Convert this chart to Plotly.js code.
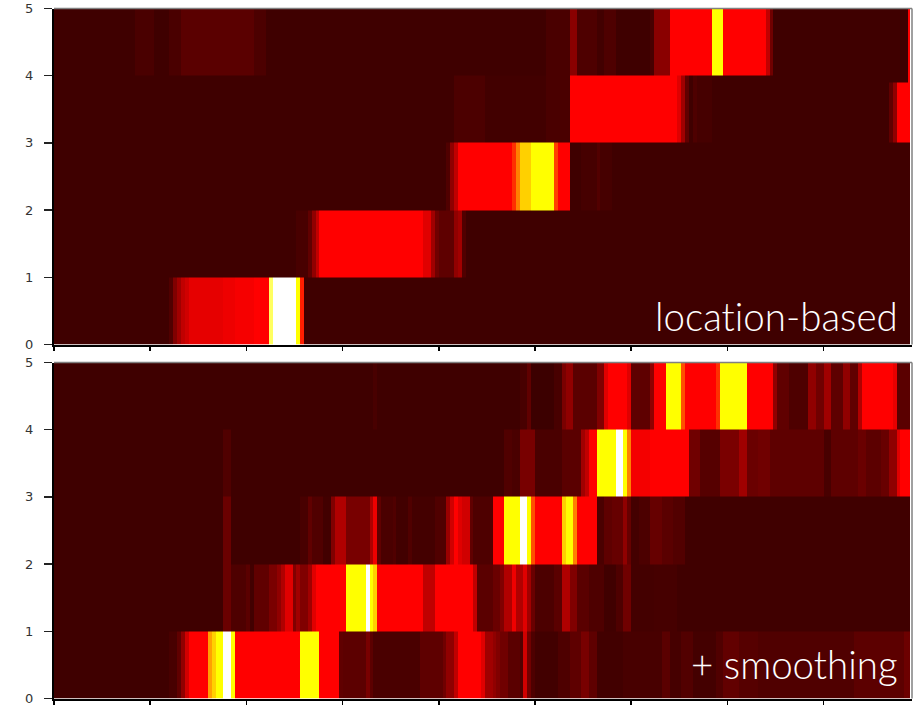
<!DOCTYPE html>
<html>
<head>
<meta charset="utf-8">
<script src="https://cdn.plot.ly/plotly-3.0.1.min.js"></script>
<style>html,body{margin:0;padding:0;background:#fff;overflow:hidden}
.annotation-text{font-variant-ligatures:none;font-feature-settings:"liga" 0}</style>
</head>
<body>
<div id="chart" style="width:922px;height:725px"></div>
<script>
// Runs are [first column, heat], heat = R+G+B of the "hot" colour
const B = 0x3f, RED = 255, YEL = 510, WHT = 765;
const COLS = 223;
const yTicks = [0, 1, 2, 3, 4, 5];
const labels = ["location-based", "+ smoothing"];

const topRow0 = [[0,B],[30,0x50],[31,0x80],[32,0xa0],[33,0xc0],[34,0xd0],[35,0xe6],[44,0xee],[47,0xf6],[52,RED],[56,606],[57,WHT],[63,YEL],[64,285],[65,B]];
const topRow1 = [[0,B],[63,0x48],[66,0x60],[67,0x90],[68,0xc0],[69,RED],[96,0xe0],[98,0xa0],[99,0x70],[100,0x5e],[104,0x90],[105,0xa0],[106,0x50],[107,B]];
const topRow2 = [[0,B],[102,0x50],[103,0x90],[104,0xc0],[105,RED],[119,303],[120,383],[121,463],[124,YEL],[130,319],[131,RED],[134,B],[137,0x46],[141,0x52],[142,0x46],[145,B]];
const topRow3 = [[0,B],[104,0x4c],[112,0x42],[128,0x4a],[134,RED],[162,0xe0],[163,0xa0],[164,0x60],[165,B],[166,0x4e],[167,0x46],[171,B],[217,0x60],[218,0x90],[219,RED]];
const topRow39 = [[0,B],[104,0x4c],[112,0x42],[128,0x4a],[134,RED],[162,0xe0],[163,0xa0],[164,0x60],[165,B],[166,0x4e],[167,0x46],[171,B],[222,RED]];
const topRow4 = [[0,B],[21,0x4a],[26,B],[30,0x4a],[33,0x5a],[52,0x4c],[55,B],[128,0x4a],[134,0x8a],[136,0x4e],[141,0x42],[143,0x4e],[146,B],[155,0x48],[156,0x8a],[160,RED],[171,YEL],[174,RED],[185,0xc0],[186,0x70],[187,B],[222,RED]];

const botRow0 = [[0,B],[30,0x48],[32,0x60],[33,0x90],[34,0xd0],[35,RED],[40,415],[41,463],[42,YEL],[44,WHT],[46,YEL],[47,RED],[64,YEL],[69,RED],[74,0x60],[75,0x5c],[81,0x78],[82,0x5c],[83,0x4a],[95,0x5e],[101,0x70],[102,0x90],[104,0xc0],[105,RED],[111,0xe0],[112,0xa0],[114,0x90],[115,0x80],[116,0x70],[118,0x5a],[121,0x50],[122,0xd0],[123,0x70],[124,0x4e],[125,0x42],[131,0x4e],[134,0x5e],[137,0x78],[139,0x5e],[141,0x42],[148,0x48],[158,0x5a],[160,0x46],[163,0x52],[166,0x44],[172,0x50],[174,0x62],[178,0x56],[183,0x50],[208,0x5c],[221,0x6c]];
const botRow1 = [[0,B],[44,0x6a],[46,0x4e],[50,0x5a],[51,0x42],[52,0x60],[56,0x7a],[58,0x90],[59,0xb0],[60,0xe0],[62,0x80],[63,0xa0],[64,0x80],[66,0xa0],[67,0xe0],[68,RED],[76,YEL],[81,WHT],[82,YEL],[83,463],[84,RED],[96,0xc0],[99,RED],[109,0xc0],[110,0x5a],[114,0x6a],[116,0x80],[117,0xb0],[119,0xf0],[120,0xb0],[122,0xe0],[123,0xa0],[124,0x6a],[125,0x4c],[130,0x5a],[132,0xb0],[134,0x80],[136,0x5a],[139,0x4e],[143,0x40],[146,0x4e],[148,0x70],[150,0x44],[156,0x46],[162,0x40]];
const botRow2 = [[0,B],[44,0x6a],[46,B],[64,0x48],[66,0x60],[67,0x50],[70,0x42],[72,0x80],[73,0xb0],[76,0x78],[82,0xb0],[83,0xf0],[84,0x60],[85,0x4a],[88,0x50],[89,0x42],[92,0x50],[93,0x44],[99,0x50],[102,0x9a],[103,0xd0],[104,RED],[105,0xe0],[106,0xd0],[108,0x60],[109,0x4e],[114,RED],[117,YEL],[121,WHT],[123,YEL],[124,335],[125,RED],[132,463],[133,YEL],[135,383],[136,RED],[141,0x4a],[143,0x5e],[145,0x66],[148,0x90],[149,0x66],[150,0x44],[152,0x4c],[155,0x66],[158,0x5a],[161,0x52],[164,0x40]];
const botRow3 = [[0,B],[44,0x50],[46,B],[117,0x50],[119,0x4a],[121,0x78],[125,0x4a],[132,0x5a],[137,0xa0],[138,0xc0],[139,RED],[141,YEL],[146,WHT],[148,YEL],[149,383],[150,0xf4],[155,RED],[165,0x70],[168,0x56],[173,0x7a],[178,0xa0],[180,0x6a],[183,0x70],[186,0x5e],[200,0x48],[202,0x5e],[209,0x6a],[211,0x5c],[215,0x68],[217,0x90],[219,0xe0],[220,RED]];
const botRow4 = [[0,B],[83,0x48],[84,B],[121,0x48],[123,0x60],[124,0x3c],[130,0x48],[132,0x7a],[133,0x90],[135,0x5a],[141,0x80],[143,0xe0],[144,RED],[149,0xe0],[150,0x5e],[155,0x90],[156,RED],[159,YEL],[163,335],[164,RED],[172,303],[173,YEL],[180,RED],[187,0x90],[188,0x60],[191,0x4e],[196,0x90],[198,0x70],[200,0xa0],[202,0x5e],[205,0x90],[207,0x60],[209,0xb0],[210,RED],[218,0xe8],[219,0x5a]];

function expand(runs) {
  const out = [];
  for (let i = 0; i < runs.length; i++) {
    const end = i + 1 < runs.length ? runs[i + 1][0] : COLS;
    for (let c = runs[i][0]; c < end; c++) out.push(runs[i][1]);
  }
  return out;
}

const xEdges = [];
for (let c = 0; c < COLS; c++) xEdges.push(c);
xEdges.push(COLS - 0.6);

const scale = [[0, '#000000'], [1/3, '#ff0000'], [2/3, '#ffff00'], [1, '#ffffff']];
const common = {type: 'heatmap', x: xEdges, zmin: 0, zmax: 765, colorscale: scale, showscale: false, hoverongaps: false};

const traces = [
  Object.assign({}, common, {xaxis: 'x', yaxis: 'y', y: [0, 1, 2, 3, 3.9, 4, 5],
    z: [topRow0, topRow1, topRow2, topRow3, topRow39, topRow4].map(expand)}),
  Object.assign({}, common, {xaxis: 'x2', yaxis: 'y2', y: [0, 1, 2, 3, 4, 5],
    z: [botRow0, botRow1, botRow2, botRow3, botRow4].map(expand)})
];

const W = 922, H = 725;
const xAxis = {domain: [54 / W, 912 / W], range: [0, COLS], tick0: 0, dtick: 25, showgrid: false, zeroline: false,
  showticklabels: false, ticks: 'outside', ticklen: 4, tickwidth: 1.5, tickcolor: '#000', showline: true, linecolor: '#000', linewidth: 2};
const yAxis = {range: [0, 5], tickvals: yTicks, ticktext: yTicks.map(String), showgrid: false, zeroline: false,
  ticks: 'outside', ticklen: 8, tickwidth: 1.5, tickcolor: '#222', showline: true, linecolor: '#000', linewidth: 2,
  ticklabelstandoff: 8, tickfont: {family: 'DejaVu Sans', size: 13, color: '#333'}};

function frame(xd, yd) {
  const l = {color: '#808080', width: 1.5};
  return [
    {type: 'line', xref: xd, yref: yd, x0: 0, x1: 1, y0: 1, y1: 1, line: l},
    {type: 'line', xref: xd, yref: yd, x0: 1, x1: 1, y0: 0, y1: 1, line: l}
  ];
}

const labelFont = {family: 'Lato', size: 38.5, color: '#ffffff', weight: 300};
const layout = {
  width: W, height: H, margin: {l: 0, r: 0, t: 0, b: 0}, paper_bgcolor: '#fff', plot_bgcolor: '#fff', showlegend: false,
  xaxis: Object.assign({}, xAxis, {anchor: 'y'}),
  yaxis: Object.assign({}, yAxis, {domain: [1 - 344.5 / H, 1 - 8.5 / H], anchor: 'x'}),
  xaxis2: Object.assign({}, xAxis, {anchor: 'y2'}),
  yaxis2: Object.assign({}, yAxis, {domain: [1 - 698.5 / H, 1 - 362.5 / H], anchor: 'x2'}),
  shapes: frame('x domain', 'y domain').concat(frame('x2 domain', 'y2 domain')),
  annotations: [
    {text: labels[0], xref: 'paper', yref: 'paper', x: 900 / W, y: 1 - 316 / H, xanchor: 'right', yanchor: 'middle', showarrow: false, font: labelFont},
    {text: labels[1], xref: 'paper', yref: 'paper', x: 900 / W, y: 1 - 664 / H, xanchor: 'right', yanchor: 'middle', showarrow: false, font: labelFont}
  ]
};
Plotly.newPlot('chart', traces, layout, {displayModeBar: false, staticPlot: true});
</script>
</body>
</html>
